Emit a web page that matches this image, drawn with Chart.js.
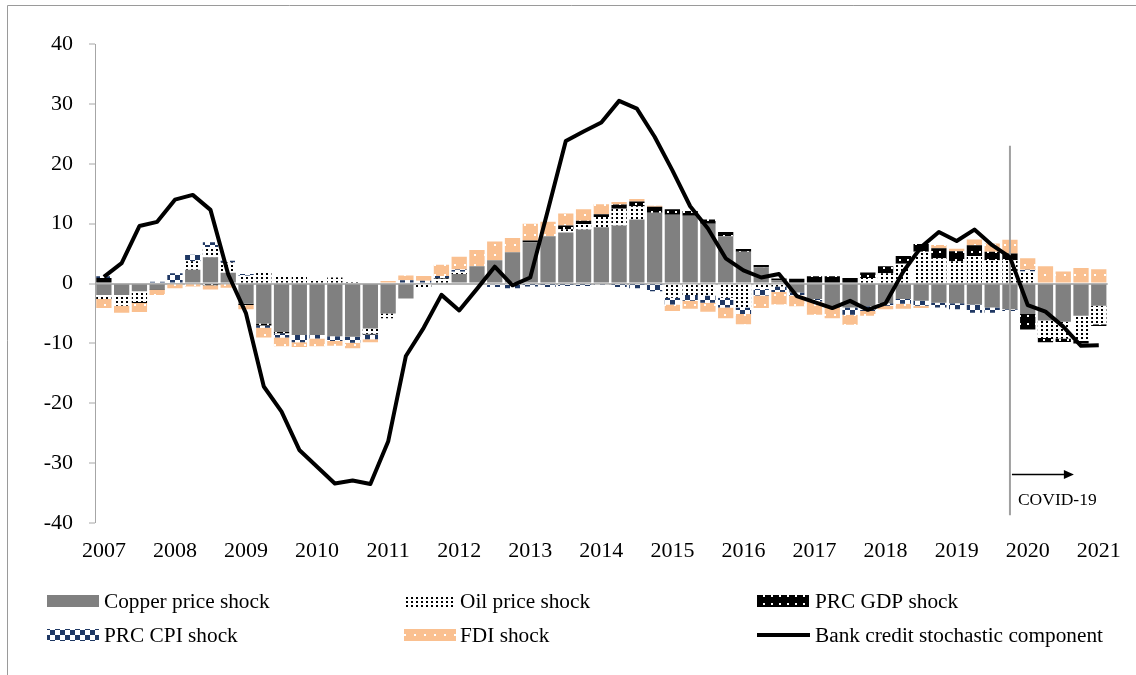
<!DOCTYPE html>
<html>
<head>
<meta charset="utf-8">
<script src="https://cdn.jsdelivr.net/npm/chart.js@4.4.1/dist/chart.umd.min.js"></script>
<style>
  html, body { margin: 0; padding: 0; background: #fff; }
  #wrap { position: relative; width: 1136px; height: 675px; }
</style>
</head>
<body>
<div id="wrap"><canvas id="c" width="1136" height="675"></canvas></div>
<script>
// quarterly categories 2007Q1 .. 2021Q1
const years = [2007, 2008, 2009, 2010, 2011, 2012, 2013, 2014, 2015, 2016, 2017, 2018, 2019, 2020, 2021];
const quarters = [];
years.forEach(y => {
  for (let q = 1; q <= 4; q++) {
    if (y === 2021 && q > 1) break;
    quarters.push(y + 'Q' + q);
  }
});

const copper = [-1.9,-1.9,-1.3,-0.95,0,2.3,4.4,1.8,-3.4,-6.7,
  -8.1,-8.6,-8.6,-8.8,-8.9,-7.5,-5.0,-2.5,0,0,
  1.6,2.9,3.9,5.2,6.9,7.9,8.5,9.0,9.4,9.7,
  10.7,11.8,11.5,11.3,10.0,7.9,5.3,2.7,0.55,-1.5,
  -2.6,-4.0,-4.0,-3.8,-3.3,-2.6,-2.9,-3.2,-3.3,-3.5,
  -4.0,-4.3,-5.1,-6.2,-6.4,-5.4,-3.7];
const oil = [-0.7,-1.8,-1.8,0,0,1.4,1.7,1.7,1.3,1.8,
  1.4,1.1,0.7,1.0,0.1,-0.9,-0.8,0,-0.8,0.8,
  0.35,0,-0.2,0,0,0,0.55,0.95,1.7,2.8,
  2.2,0,-2.4,-1.9,-2.0,-2.4,-4.0,-0.9,-0.5,0,
  0,0,0,0.9,1.7,3.3,5.3,4.2,3.7,4.6,
  3.9,3.9,2.0,-2.9,-2.8,-4.2,-3.1];
const gdp = [0.9,0,-0.15,-0.1,0,0,-0.3,0,-0.2,-0.3,
  -0.2,0,0,0,0,-0.1,0,0,0,0.1,
  0,0,0,0,0.3,0,0.65,0.55,0.45,0.7,
  0.8,1.0,0.9,0.8,0.7,0.7,0.45,0.4,0.3,0.8,
  1.2,1.2,0.9,0.95,1.2,1.3,1.3,1.7,1.7,1.8,
  1.4,1.1,-2.6,-0.7,-0.55,-0.4,-0.3];
const cpi = [0.3,0,0,0.3,1.7,1.1,0.8,0.3,0.3,-0.4,
  -0.7,-1.2,-0.6,-0.8,-1.0,-0.8,0,0.55,0.45,0.35,
  0.4,0,-0.4,-0.8,-0.5,-0.6,-0.4,-0.4,-0.2,-0.6,
  -0.8,-1.3,-1.1,-1.0,-1.2,-1.6,-1.1,-1.1,-0.9,-0.5,
  -0.4,0,-1.2,-0.8,-0.4,-0.8,-0.8,-0.8,-1.0,-1.4,
  -0.9,-0.3,0.3,0,0,0,0];
const fdi = [-1.5,-1.2,-1.5,-0.85,-0.8,-0.5,-0.7,-0.7,-0.7,-1.6,
  -1.5,-0.8,-1.3,-0.8,-0.9,-0.5,0.4,0.8,0.8,1.9,
  2.1,2.7,3.1,2.4,2.8,2.4,2.0,1.9,1.7,0.4,
  0.4,0.2,-1.1,-1.3,-1.5,-1.8,-1.7,-2.1,-2.1,-1.8,
  -2.2,-1.8,-1.7,-0.8,-0.6,-0.8,-0.4,0.55,0.4,0.95,
  1.4,2.3,1.9,2.9,2.0,2.6,2.4];
const bankCredit = [1.1,3.4,9.6,10.3,14.0,14.8,12.3,1.5,-5.0,-17.2,
  -21.4,-27.8,-30.6,-33.4,-32.9,-33.5,-26.4,-12.1,-7.4,-1.9,
  -4.5,-0.9,2.8,-0.3,1.0,12.3,23.8,25.4,26.9,30.5,
  29.2,24.5,18.9,12.9,9.2,4.2,2.2,1.0,1.6,-2.1,
  -3.1,-4.1,-2.9,-4.4,-3.3,2.0,6.1,8.6,7.1,9.0,
  6.4,4.4,-3.6,-4.7,-7.2,-10.4,-10.3];

const seriesNames = ['Copper price shock', 'Oil price shock', 'PRC GDP shock',
  'PRC CPI shock', 'FDI shock', 'Bank credit stochastic component'];
const covidIndex = 51;   // 2019Q4
const covidLabel = 'COVID-19';

const FONT = "'Liberation Serif', 'Times New Roman', serif";
const canvas = document.getElementById('c');
const ctx = canvas.getContext('2d');

function makePattern(w, h, bg, draw) {
  const c = document.createElement('canvas');
  c.width = w; c.height = h;
  const g = c.getContext('2d');
  g.fillStyle = bg;
  g.fillRect(0, 0, w, h);
  draw(g);
  return ctx.createPattern(c, 'repeat');
}

const fills = [
  '#808080',
  makePattern(5, 4, '#ffffff', g => { g.fillStyle = '#000'; g.fillRect(1, 1, 2, 2); }),
  makePattern(8, 8, '#000000', g => { g.fillStyle = '#fff'; g.fillRect(3, 3, 2, 2); }),
  makePattern(10, 10, '#ffffff', g => { g.fillStyle = '#1f3864'; g.fillRect(0, 0, 5, 5); g.fillRect(5, 5, 5, 5); }),
  makePattern(10, 10, '#fac090', g => { g.fillStyle = '#fff'; g.fillRect(4, 4, 2, 2); })
];

const barSeries = [copper, oil, gdp, cpi, fdi];
const datasets = barSeries.map((d, i) => ({
  type: 'bar',
  label: seriesNames[i],
  data: d,
  backgroundColor: fills[i],
  borderWidth: 0,
  barPercentage: 0.86,
  categoryPercentage: 1.0,
  stack: 'shocks',
  order: 1
}));
datasets.push({
  type: 'line',
  label: seriesNames[5],
  data: bankCredit,
  borderColor: '#000',
  borderWidth: 4,
  pointRadius: 0,
  tension: 0,
  borderJoinStyle: 'round',
  fill: false,
  stack: 'line',
  order: 0
});

const decor = {
  id: 'decor',
  beforeDatasetDraw(chart, args) {
    if (args.index !== 5) return;
    const x = chart.scales.x.getPixelForValue(covidIndex);
    const y = chart.scales.y;
    const c = chart.ctx;
    c.save();
    c.strokeStyle = '#a0a0a0';
    c.lineWidth = 2;
    c.beginPath();
    c.moveTo(x, y.getPixelForValue(23));
    c.lineTo(x, y.getPixelForValue(-38.7));
    c.stroke();
    c.restore();
  },
  afterDraw(chart) {
    const c = chart.ctx;
    const xs = chart.scales.x, ys = chart.scales.y;
    c.save();
    // arrow + label
    const ax0 = xs.getPixelForValue(covidIndex) + 2;
    const ax1 = xs.getPixelForValue(54.6);
    const ay = ys.getPixelForValue(-31.9);
    c.strokeStyle = '#000';
    c.fillStyle = '#000';
    c.lineWidth = 1.5;
    c.beginPath();
    c.moveTo(ax0, ay);
    c.lineTo(ax1 - 8, ay);
    c.stroke();
    c.beginPath();
    c.moveTo(ax1, ay);
    c.lineTo(ax1 - 10, ay - 4.5);
    c.lineTo(ax1 - 10, ay + 4.5);
    c.closePath();
    c.fill();
    c.font = '17.5px ' + FONT;
    c.textBaseline = 'middle';
    c.textAlign = 'left';
    c.fillText(covidLabel, xs.getPixelForValue(covidIndex) + 8, ys.getPixelForValue(-36.3));

    // outer frame
    c.strokeStyle = '#9a9a9a';
    c.lineWidth = 1;
    c.beginPath();
    c.moveTo(7.5, 675);
    c.lineTo(7.5, 5.5);
    c.lineTo(1136, 5.5);
    c.stroke();

    // legend
    const colX = [47, 404, 757];
    const textX = [104, 460, 815];
    const rowY = [601, 635];
    c.font = '21.3px ' + FONT;
    c.textAlign = 'left';
    c.textBaseline = 'middle';
    for (let i = 0; i < 6; i++) {
      const col = i % 3, row = Math.floor(i / 3);
      const sx = colX[col], sy = rowY[row];
      if (i < 5) {
        c.fillStyle = fills[i];
        c.fillRect(sx, sy - 6, 52, 12);
      } else {
        c.strokeStyle = '#000';
        c.lineWidth = 4;
        c.beginPath();
        c.moveTo(sx, sy);
        c.lineTo(sx + 53, sy);
        c.stroke();
      }
      c.fillStyle = '#000';
      c.fillText(seriesNames[i], textX[col], sy + 1);
    }
    c.restore();
  }
};

new Chart(ctx, {
  data: { labels: quarters, datasets: datasets },
  options: {
    responsive: false,
    animation: false,
    layout: { padding: { top: 44, right: 26, left: 0, bottom: 0 } },
    plugins: { legend: { display: false }, tooltip: { enabled: false } },
    scales: {
      x: {
        stacked: true,
        grid: { display: false, drawTicks: false },
        border: { display: false },
        ticks: {
          autoSkip: false,
          maxRotation: 0,
          padding: 15,
          color: '#000',
          font: { family: FONT, size: 22 },
          callback: function (v) {
            const l = this.getLabelForValue(v);
            return l.endsWith('Q1') ? l.slice(0, 4) : '';
          }
        },
        afterFit: s => { s.height = 152; }
      },
      y: {
        stacked: true,
        min: -40,
        max: 40,
        ticks: { stepSize: 10, padding: 16, color: '#000', font: { family: FONT, size: 22 } },
        grid: {
          color: c => c.tick && c.tick.value === 0 ? '#b4b4b4' : 'rgba(0,0,0,0)',
          lineWidth: c => c.tick && c.tick.value === 0 ? 2 : 0,
          tickColor: '#a6a6a6',
          tickWidth: 1,
          tickLength: 6
        },
        border: { color: '#a6a6a6', width: 1 },
        afterFit: s => { s.width = 95; }
      }
    }
  },
  plugins: [decor]
});
</script>
</body>
</html>
